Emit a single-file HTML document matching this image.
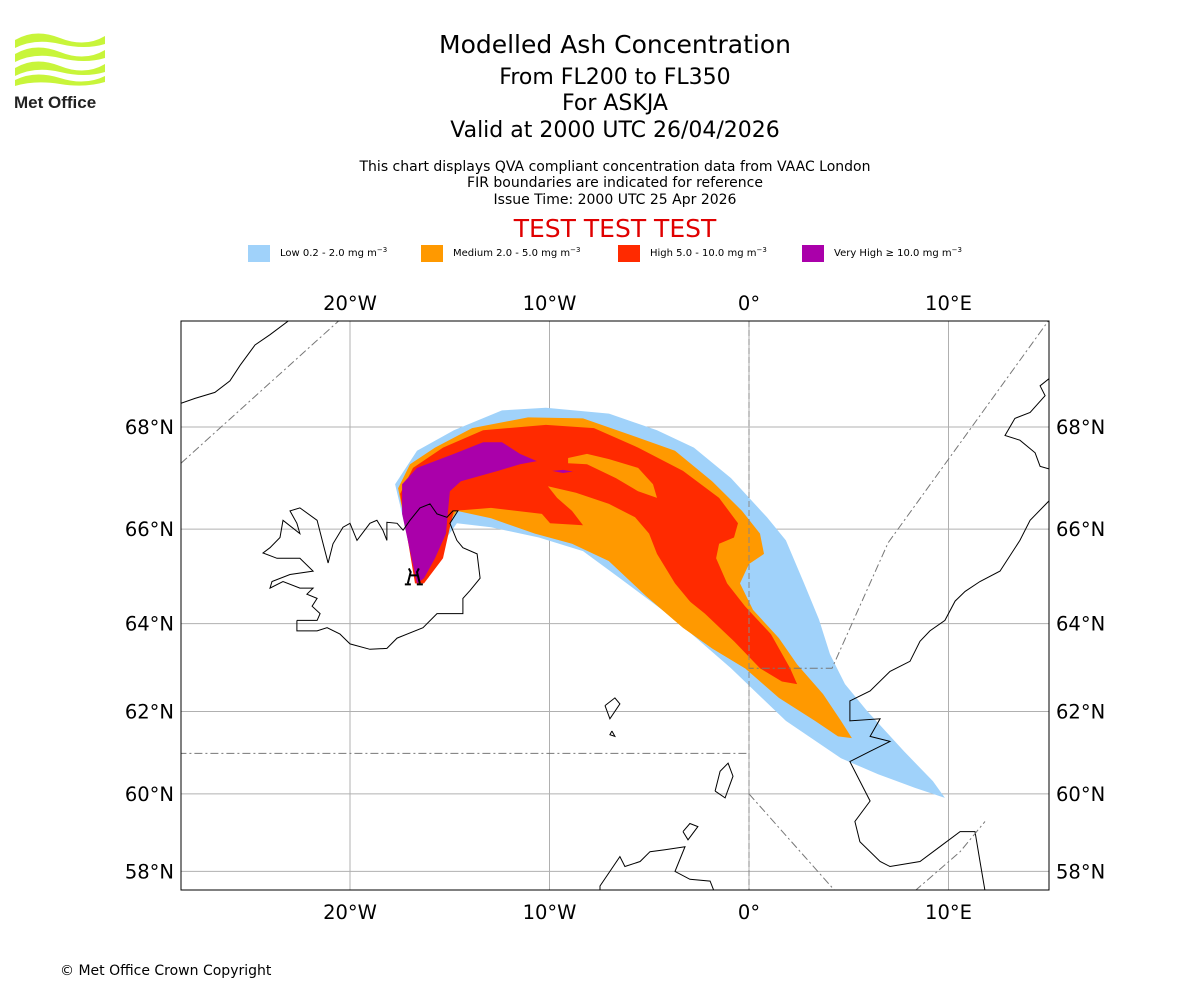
<!DOCTYPE html>
<html><head><meta charset="utf-8"><style>
body{margin:0;background:#fff;width:1200px;height:1000px;overflow:hidden;font-family:"Liberation Sans","DejaVu Sans",sans-serif}
svg text{font-family:"DejaVu Sans","Liberation Sans",sans-serif}
</style></head><body>
<svg id="chart" width="1200" height="1000" xmlns="http://www.w3.org/2000/svg">
<g>
<path d="M15 40 Q35 28 60 38 T105 36 L105 44 Q85 50 60 44 T15 48Z" fill="#c8f53a"/>
<path d="M15 54 Q35 42 60 52 T105 50 L105 58 Q85 64 60 58 T15 62Z" fill="#c8f53a"/>
<path d="M15 68 Q35 56 60 66 T105 64 L105 72 Q85 78 60 72 T15 76Z" fill="#c8f53a"/>
<path d="M15 80 Q35 70 60 78 T105 76 L105 82 Q85 88 60 84 T15 86Z" fill="#c8f53a"/>
<text x="14" y="108" font-size="17" font-weight="bold" fill="#222" style="font-family:'Liberation Sans',sans-serif">Met Office</text>
</g>
<g text-anchor="middle" fill="#000">
<text x="615" y="53" font-size="25">Modelled Ash Concentration</text>
<text x="615" y="84" font-size="22">From FL200 to FL350</text>
<text x="615" y="110" font-size="22">For ASKJA</text>
<text x="615" y="137" font-size="22">Valid at 2000 UTC 26/04/2026</text>
<text x="615" y="171" font-size="14">This chart displays QVA compliant concentration data from VAAC London</text>
<text x="615" y="187" font-size="14">FIR boundaries are indicated for reference</text>
<text x="615" y="204" font-size="14">Issue Time: 2000 UTC 25 Apr 2026</text>
<text x="615" y="237" font-size="25" fill="#e00000">TEST TEST TEST</text>
</g>
<g font-size="11">
<rect x="248" y="245" width="22" height="17" fill="#a0d2fa"/>
<text x="280" y="256" font-size="10">Low 0.2 - 2.0 mg m<tspan dy="-4" font-size="7">−3</tspan></text>
<rect x="421" y="245" width="22" height="17" fill="#ff9900"/>
<text x="453" y="256" font-size="10">Medium 2.0 - 5.0 mg m<tspan dy="-4" font-size="7">−3</tspan></text>
<rect x="618" y="245" width="22" height="17" fill="#ff2a00"/>
<text x="650" y="256" font-size="10">High 5.0 - 10.0 mg m<tspan dy="-4" font-size="7">−3</tspan></text>
<rect x="802" y="245" width="22" height="17" fill="#aa00aa"/>
<text x="834" y="256" font-size="10">Very High ≥ 10.0 mg m<tspan dy="-4" font-size="7">−3</tspan></text>
</g>
<defs><clipPath id="mapclip"><rect x="181" y="321" width="868" height="569"/></clipPath></defs>
<g id="map" clip-path="url(#mapclip)"></g>
<g id="axes"></g>
<rect x="181" y="321" width="868" height="569" fill="none" stroke="#000" stroke-width="1"/>
<text x="60" y="975" font-size="14">© Met Office Crown Copyright</text>
</svg>
<script>
const lonTicks=[-20,-10,0,10];
const lonLabels=["20°W","10°W","0°","10°E"];
const latTicks=[58,60,62,64,66,68];
const latLabels=["58°N","60°N","62°N","64°N","66°N","68°N"];
const lowPoly=[[-16.54,64.83],[-17.74,66.90],[-16.64,67.55],[-14.79,67.94],[-12.38,68.31],[-10.18,68.36],[-7.02,68.25],[-4.61,67.94],[-2.76,67.61],[-0.90,67.02],[0.90,66.24],[1.85,65.77],[2.76,64.87],[3.51,64.09],[4.06,63.32],[4.81,62.64],[5.91,62.02],[7.77,61.05],[9.22,60.32],[9.82,59.90],[8.32,60.15],[6.47,60.49],[4.61,60.88],[1.85,61.78],[-0.90,63.00],[-3.71,64.09],[-6.47,64.98],[-8.32,65.55],[-10.53,65.83],[-12.93,66.04],[-14.64,66.12],[-15.74,65.49],[-16.29,64.98]];
const medPoly=[[-16.64,64.83],[-17.59,66.82],[-16.99,67.29],[-15.74,67.61],[-13.88,67.98],[-11.08,68.18],[-8.32,68.16],[-5.56,67.80],[-3.71,67.55],[-1.85,66.96],[-0.35,66.37],[0.55,65.91],[0.75,65.49],[0,65.28],[-0.45,64.87],[0.20,64.30],[1.50,63.68],[2.41,63.09],[3.71,62.41],[4.61,61.78],[5.16,61.37],[4.46,61.41],[3.31,61.78],[1.50,62.32],[-0.20,63.00],[-1.85,63.45],[-3.31,63.91],[-5.16,64.60],[-7.02,65.34],[-8.87,65.70],[-10.73,65.91],[-12.93,66.22],[-14.64,66.37],[-15.19,66.04],[-15.54,65.40],[-16.09,64.98]];
const highPoly=[[-16.74,64.87],[-17.49,66.71],[-16.84,67.22],[-15.34,67.61],[-13.33,67.94],[-10.18,68.04],[-7.77,67.98],[-5.56,67.61],[-3.31,67.16],[-1.50,66.63],[-0.55,66.12],[-0.75,65.83],[-1.50,65.70],[-1.65,65.40],[-1.10,64.87],[-0.20,64.38],[1.10,63.77],[2.06,63.00],[2.41,62.64],[1.65,62.70],[0.55,63.00],[-0.75,63.61],[-2.21,64.22],[-3.31,64.60],[-4.46,65.19],[-5.56,65.77],[-7.02,65.98],[-8.32,66.08],[-9.97,66.12],[-10.38,66.31],[-12.93,66.43],[-14.79,66.37],[-14.99,66.04],[-15.34,65.40],[-16.29,64.87]];
const medTongue=[[-10.08,66.86],[-8.67,66.73],[-7.02,66.51],[-5.71,66.24],[-5.01,65.91],[-4.61,65.49],[-3.71,64.87],[-2.76,64.38],[-1.30,63.80],[0.00,63.16],[-0.20,63.00],[-1.85,63.45],[-3.31,63.91],[-5.16,64.60],[-7.02,65.34],[-8.32,66.08],[-8.87,66.37],[-9.62,66.63]];
const medIsland=[[-9.07,67.41],[-8.12,67.49],[-7.02,67.39],[-5.56,67.22],[-4.81,66.90],[-4.61,66.63],[-5.56,66.76],[-6.67,67.02],[-8.12,67.29],[-9.07,67.31]];
const vhighPoly=[[-16.64,64.87],[-17.39,66.31],[-17.39,66.90],[-16.64,67.22],[-14.79,67.49],[-13.33,67.71],[-12.38,67.71],[-11.48,67.49],[-10.63,67.35],[-11.48,67.29],[-12.58,67.16],[-14.44,66.96],[-14.99,66.76],[-15.09,66.37],[-15.19,65.91],[-15.74,65.40],[-16.29,64.98]];
const vhighSpot=[[-9.87,67.16],[-9.32,67.18],[-8.82,67.15],[-9.32,67.12]];
const iceland=[[-22.66,64.07],[-22.51,64.07],[-21.65,64.07],[-21.50,64.22],[-21.90,64.38],[-21.65,64.55],[-22.16,64.64],[-21.85,64.77],[-22.51,64.77],[-23.36,64.91],[-24.01,64.77],[-23.91,64.91],[-23.01,65.06],[-21.85,65.13],[-22.51,65.40],[-23.66,65.40],[-24.36,65.51],[-24.01,65.62],[-23.51,65.83],[-23.36,66.18],[-22.51,65.91],[-22.66,66.12],[-23.01,66.37],[-22.51,66.43],[-21.65,66.18],[-21.35,65.70],[-21.10,65.30],[-20.85,65.70],[-20.35,66.04],[-20.00,66.12],[-19.65,65.77],[-19.00,66.12],[-18.65,66.18],[-18.35,65.98],[-18.15,65.77],[-18.15,66.14],[-17.64,66.12],[-17.34,65.98],[-16.99,66.18],[-16.49,66.43],[-15.99,66.51],[-15.64,66.31],[-15.14,66.24],[-14.84,66.37],[-14.59,66.37],[-14.99,66.12],[-14.64,65.77],[-14.34,65.62],[-13.63,65.49],[-13.48,64.98],[-13.98,64.72],[-14.34,64.55],[-14.34,64.22],[-15.64,64.22],[-16.34,63.91],[-17.64,63.68],[-18.15,63.45],[-19.00,63.43],[-20.00,63.55],[-20.50,63.77],[-21.15,63.91],[-21.65,63.84],[-22.66,63.84],[-22.66,64.07]];
const greenland=[[-28.6,68.42],[-28.47,68.44],[-27.77,68.53],[-26.77,68.64],[-26.02,68.85],[-25.51,69.13],[-24.76,69.49],[-24.01,69.67],[-23.01,69.93],[-22.5,70.1]];
const norway=[[15.04,66.57],[14.09,66.18],[13.58,65.77],[12.58,65.13],[11.58,64.91],[10.83,64.70],[10.33,64.49],[9.82,64.07],[9.07,63.84],[8.57,63.61],[8.07,63.16],[7.07,62.93],[6.07,62.48],[5.06,62.25],[5.06,61.78],[6.57,61.83],[6.07,61.41],[7.07,61.29],[6.07,61.05],[5.06,60.80],[5.56,60.32],[6.07,59.82],[5.31,59.30],[5.56,58.78],[6.57,58.26],[7.07,58.13],[8.57,58.26],[9.57,58.65],[10.58,59.04],[11.33,59.04],[11.58,58.26],[11.83,57.48]];
const norwayNorth=[[15.2,68.95],[15.04,68.89],[14.59,68.76],[14.84,68.58],[14.09,68.27],[13.33,68.16],[12.83,67.84],[13.58,67.75],[14.34,67.51],[14.59,67.25],[15.04,67.20],[15.2,67.1]];
const scotland=[[-7.47,57.45],[-7.47,57.61],[-6.97,58.0],[-6.47,58.39],[-6.22,58.13],[-5.46,58.26],[-4.96,58.52],[-4.21,58.57],[-3.21,58.65],[-3.71,58.0],[-2.96,57.79],[-1.95,57.74],[-1.70,57.40]];
const shetland=[[-1.70,60.07],[-1.45,60.56],[-1.05,60.76],[-0.80,60.44],[-1.20,59.90],[-1.70,60.07]];
const faroe=[[-7.22,62.14],[-6.72,62.32],[-6.47,62.18],[-6.97,61.83],[-7.22,62.14]];
const faroeSouth=[[-6.87,61.54],[-6.72,61.41],[-6.97,61.45],[-6.87,61.54]];
const orkney=[[-3.31,59.04],[-2.96,59.25],[-2.56,59.17],[-3.06,58.83],[-3.31,59.04]];
const firLines=[
 [[-28.47,67.31],[-20.50,69.93]],
 [[-28.6,61.0],[0,61.0]],
 [[15.2,70.0],[6.97,65.72],[4.16,63.0],[0,63.0]],
 [[0,60.0],[4.31,57.48]],
 [[8.32,57.48],[10.58,58.52],[11.83,59.30]]
];
const vent=[-16.8,65.04];

const NS='http://www.w3.org/2000/svg';
const M=l=>Math.log(Math.tan(Math.PI/4+l*Math.PI/360));
const px=lon=>749+lon*19.95;
const py=lat=>427+(M(68)-M(lat))*1143;
const pts=a=>a.map(p=>px(p[0]).toFixed(1)+','+py(p[1]).toFixed(1)).join(' ');
const map=document.getElementById('map'), axes=document.getElementById('axes');
function mk(tag,attrs,parent){const e=document.createElementNS(NS,tag);for(const k in attrs)e.setAttribute(k,attrs[k]);parent.appendChild(e);return e;}

lonTicks.forEach((v,i)=>{
 const g=mk('line',{x1:px(v),x2:px(v),y1:321,y2:890,stroke:'#b0b0b0','stroke-width':1},map);
 
 
});
latTicks.forEach((v,i)=>{
 const g=mk('line',{x1:181,x2:1049,y1:py(v),y2:py(v),stroke:'#b0b0b0','stroke-width':1},map);
 
 
});
const layers=[[lowPoly,'#a0d2fa','ash-low'],[medPoly,'#ff9900','ash-medium'],[highPoly,'#ff2a00','ash-high'],[medTongue,'#ff9900','ash-medium-tongue'],[medIsland,'#ff9900','ash-medium-island'],[vhighPoly,'#aa00aa','ash-very-high'],[vhighSpot,'#aa00aa','ash-very-high-spot']];
layers.forEach(L=>{
 const p=mk('polygon',{points:pts(L[0]),fill:L[1]},map);
 
 
});
const coasts=[[iceland,'iceland-coast'],[greenland,'greenland-coast'],[norway,'norway-coast'],[norwayNorth,'norway-north-coast'],[scotland,'scotland-coast'],[shetland,'shetland-coast'],[faroe,'faroe-coast'],[faroeSouth,'faroe-south-coast'],[orkney,'orkney-coast']];
coasts.forEach(c=>{
 const p=mk('polyline',{points:pts(c[0]),fill:'none',stroke:'#000','stroke-width':1},map);
 
 
});
firLines.forEach((f,i)=>{
 const p=mk('polyline',{points:pts(f),fill:'none',stroke:'#777','stroke-width':1,'stroke-dasharray':'8,3,2,3'},map);
 
 
});
const mer=mk('line',{x1:px(0),x2:px(0),y1:321,y2:890,stroke:'#888','stroke-width':1,'stroke-dasharray':'6,3'},map);


const vx=px(vent[0]),vy=py(vent[1]);
const vs=mk('path',{d:`M${vx-6} ${vy+8} L${vx-3} ${vy-4} M${vx+6} ${vy+8} L${vx+3} ${vy-4} M${vx-4} ${vy} L${vx+4} ${vy} M${vx-5} ${vy-7} L${vx-3} ${vy-3} M${vx+5} ${vy-7} L${vx+3} ${vy-3} M${vx-9} ${vy+9} L${vx-3} ${vy+9} M${vx+3} ${vy+9} L${vx+9} ${vy+9}`,stroke:'#000','stroke-width':2,fill:'none'},map);


lonTicks.forEach((v,i)=>{
 [303,912].forEach((y,j)=>{
  const t=mk('text',{x:px(v),y:y+7,'font-size':19.5,'text-anchor':'middle'},axes);
  t.textContent=lonLabels[i];
  
  
 });
});
latTicks.forEach((v,i)=>{
 const t1=mk('text',{x:174,y:py(v)+7,'font-size':19.5,'text-anchor':'end'},axes);
 t1.textContent=latLabels[i];
 
 
 const t2=mk('text',{x:1056,y:py(v)+7,'font-size':19.5,'text-anchor':'start'},axes);
 t2.textContent=latLabels[i];
 
 
});
</script>
</body></html>
